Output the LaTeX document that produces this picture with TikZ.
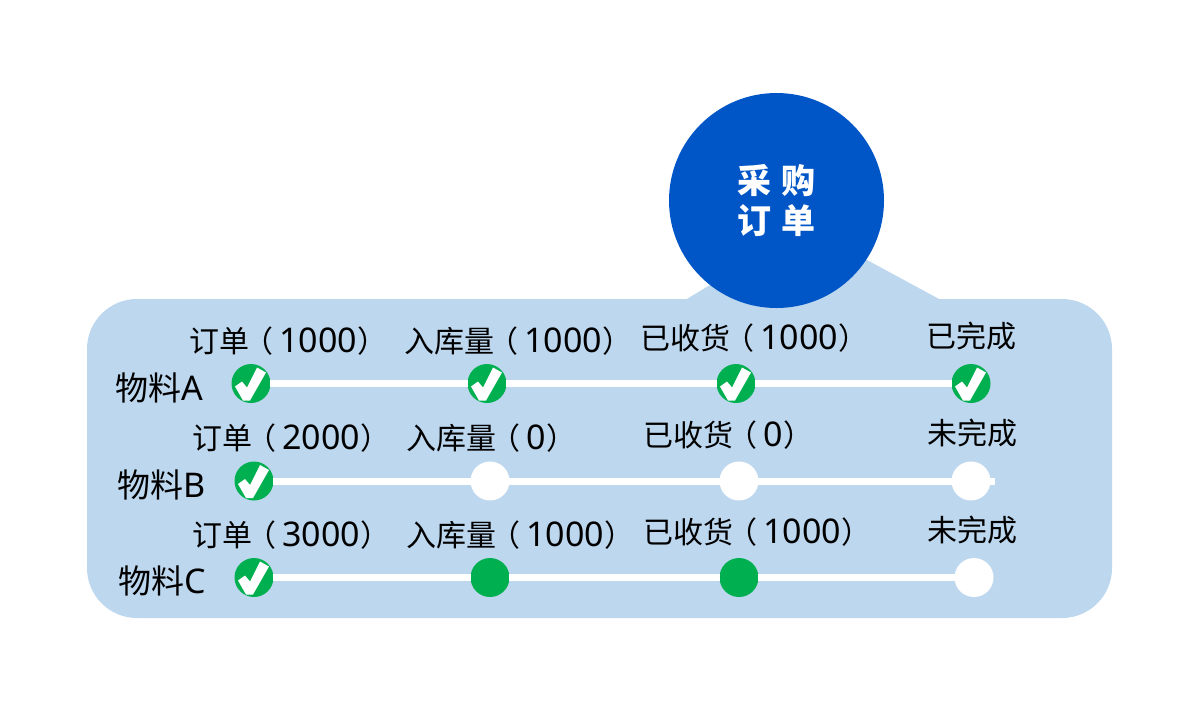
\documentclass[tikz,border=0pt]{standalone}
\usepackage{fontspec}
\setmainfont{Noto Sans}
\newfontfamily\cjk{Noto Sans CJK SC}
\definecolor{panelblue}{HTML}{BDD7EE}
\definecolor{headblue}{HTML}{0056C6}
\definecolor{okgreen}{HTML}{00B050}
\newcommand{\zh}[1]{{\fontsize{30}{30}\cjk #1}}
\newcommand{\qty}[1]{\hspace{-6pt}\zh{（}\hspace{6pt}{\fontsize{34}{34}\selectfont #1}\hspace{1pt}\zh{）}}
\tikzset{
  panelbox/.style={fill=panelblue,rounded corners=50pt,minimum width=1025pt,minimum height=319pt,inner sep=0pt},
  headcircle/.style={circle,fill=headblue,minimum size=215pt,inner sep=0pt,text=white,align=center},
  bare/.style={circle,minimum size=39pt,inner sep=0pt},
  empty/.style={bare,fill=white},
  part/.style={bare,fill=okgreen},
  done/.style={bare,fill=okgreen,path picture={
    \fill[white] (-16,3)--(-9,-2)--(-4,4)--(6,-16)--(15,-11)--(-1,17)--(-8,17)--cycle;}},
  track/.style={white,line width=7pt,shorten <=-1pt,shorten >=-1pt},
  lab/.style={inner sep=0pt,text=black},
  labw/.style={lab,anchor=west},
}
\begin{document}
\begin{tikzpicture}[x=1pt,y=-1pt]
\useasboundingbox (0,0) rectangle (1200,716);
\node[panelbox] (panel) at (599.5,458.5) {};
\coordinate (tl) at (686,299.5);
\coordinate (tr) at (940,299.5);
\fill[panelblue] (tl) -- (710,285) -- (867,260) -- (tr) -- cycle;
\node[headcircle] (head) at (776.5,200.5) {};
\node[inner sep=0pt,text=white] (t1) at (776.5,181) {\fontsize{34}{34}\cjk\bfseries 采\hspace{10pt}购};
\node[inner sep=0pt,text=white] (t2) at (776.5,221) {\fontsize{34}{34}\cjk\bfseries 订\hspace{10pt}单};
% row A
\node[done] (a1) at (251,383.5) {};
\node[done] (a2) at (487,383.5) {};
\node[done] (a3) at (736,383.5) {};
\node[done] (a4) at (971,383.5) {};
\draw[track] (a1) -- (a2);
\draw[track] (a2) -- (a3);
\draw[track] (a3) -- (a4);
% row B
\node[done] (b1) at (254,481) {};
\node[empty] (b2) at (490,481) {};
\node[empty] (b3) at (739,481) {};
\node[empty] (b4) at (971,481) {};
\coordinate (bend) at (994,481);
\draw[track] (b1) -- (b2);
\draw[track] (b2) -- (b3);
\draw[track] (b3) -- (b4);
\draw[track] (b4) -- (bend);
% row C
\node[done] (c1) at (254,577.5) {};
\node[part] (c2) at (490,577.5) {};
\node[part] (c3) at (739,577.5) {};
\node[empty] (c4) at (974,577.5) {};
\draw[track] (c1) -- (c2);
\draw[track] (c2) -- (c3);
\draw[track] (c3) -- (c4);
% row names
\node[lab] (na) at (159,388) {\fontsize{33}{33}\cjk 物料\fontsize{34}{34}\selectfont\rmfamily A};
\node[lab] (nb) at (162,485) {\fontsize{33}{33}\cjk 物料\fontsize{34}{34}\selectfont\rmfamily B};
\node[lab] (nc) at (162.5,581) {\fontsize{33}{33}\cjk 物料\fontsize{34}{34}\selectfont\rmfamily C};
% labels
\node[labw] (la1) at (189,341) {\zh{订单}\qty{1000}};
\node[labw] (la2) at (404,341) {\zh{入库量}\qty{1000}};
\node[labw] (la3) at (640,338) {\zh{已收货}\qty{1000}};
\node[lab] (la4) at (971,336) {\zh{已完成}};
\node[labw] (lb1) at (192,438) {\zh{订单}\qty{2000}};
\node[labw] (lb2) at (406,438) {\zh{入库量}\qty{0}};
\node[labw] (lb3) at (643,435) {\zh{已收货}\qty{0}};
\node[lab] (lb4) at (972,433) {\zh{未完成}};
\node[labw] (lc1) at (192,535) {\zh{订单}\qty{3000}};
\node[labw] (lc2) at (406,535) {\zh{入库量}\qty{1000}};
\node[labw] (lc3) at (643,532) {\zh{已收货}\qty{1000}};
\node[lab] (lc4) at (972,530) {\zh{未完成}};
\end{tikzpicture}
\end{document}
